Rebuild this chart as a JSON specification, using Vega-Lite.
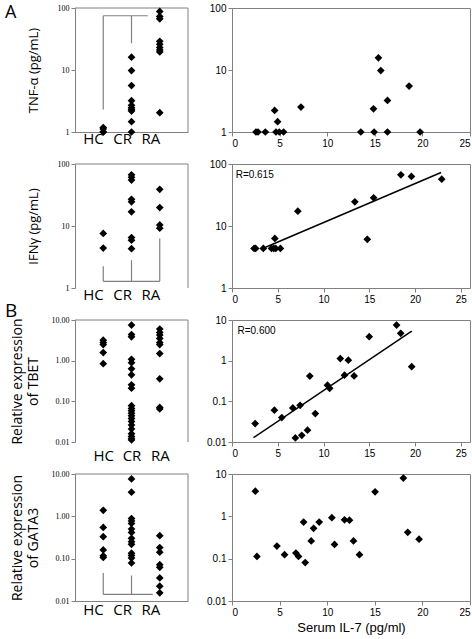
{
  "$schema": "https://vega.github.io/schema/vega-lite/v6.json",
  "background": "white",
  "padding": {"left": 5, "top": 2, "right": 5, "bottom": 2},
  "columns": 2,
  "spacing": {"row": 32, "column": 44},
  "bounds": "flush",
  "datasets": {
    "one": [{"k": 1}],
    "tnf_strip": [
      {"g": "HC", "v": 1.0}, {"g": "HC", "v": 1.0}, {"g": "HC", "v": 1.12}, {"g": "HC", "v": 1.18},
      {"g": "CR", "v": 16.1}, {"g": "CR", "v": 9.8}, {"g": "CR", "v": 5.6}, {"g": "CR", "v": 3.2}, {"g": "CR", "v": 2.7}, {"g": "CR", "v": 2.46}, {"g": "CR", "v": 2.3}, {"g": "CR", "v": 2.18}, {"g": "CR", "v": 1.47}, {"g": "CR", "v": 1.0},
      {"g": "RA", "v": 88}, {"g": "RA", "v": 73}, {"g": "RA", "v": 67}, {"g": "RA", "v": 29}, {"g": "RA", "v": 26}, {"g": "RA", "v": 23}, {"g": "RA", "v": 21}, {"g": "RA", "v": 19.6}, {"g": "RA", "v": 2.05}
    ],
    "ifn_strip": [
      {"g": "HC", "v": 7.6}, {"g": "HC", "v": 4.4},
      {"g": "CR", "v": 67}, {"g": "CR", "v": 61}, {"g": "CR", "v": 55}, {"g": "CR", "v": 27}, {"g": "CR", "v": 24.5}, {"g": "CR", "v": 16.9}, {"g": "CR", "v": 6.5}, {"g": "CR", "v": 5.9}, {"g": "CR", "v": 4.3},
      {"g": "RA", "v": 39}, {"g": "RA", "v": 19.8}, {"g": "RA", "v": 10.4}, {"g": "RA", "v": 9.2}
    ],
    "tbet_strip": [
      {"g": "HC", "v": 3.19}, {"g": "HC", "v": 2.79}, {"g": "HC", "v": 2.49}, {"g": "HC", "v": 1.58}, {"g": "HC", "v": 0.84},
      {"g": "CR", "v": 7.5}, {"g": "CR", "v": 4.4}, {"g": "CR", "v": 3.86}, {"g": "CR", "v": 1.08}, {"g": "CR", "v": 0.89}, {"g": "CR", "v": 0.63}, {"g": "CR", "v": 0.45}, {"g": "CR", "v": 0.254}, {"g": "CR", "v": 0.21}, {"g": "CR", "v": 0.078}, {"g": "CR", "v": 0.067}, {"g": "CR", "v": 0.059}, {"g": "CR", "v": 0.051}, {"g": "CR", "v": 0.044}, {"g": "CR", "v": 0.038}, {"g": "CR", "v": 0.032}, {"g": "CR", "v": 0.026}, {"g": "CR", "v": 0.021}, {"g": "CR", "v": 0.016}, {"g": "CR", "v": 0.0136}, {"g": "CR", "v": 0.0121}, {"g": "CR", "v": 0.0112},
      {"g": "RA", "v": 5.98}, {"g": "RA", "v": 4.95}, {"g": "RA", "v": 4.25}, {"g": "RA", "v": 3.51}, {"g": "RA", "v": 2.79}, {"g": "RA", "v": 2.49}, {"g": "RA", "v": 1.49}, {"g": "RA", "v": 0.358}, {"g": "RA", "v": 0.071}, {"g": "RA", "v": 0.065}
    ],
    "gata_strip": [
      {"g": "HC", "v": 1.39}, {"g": "HC", "v": 0.546}, {"g": "HC", "v": 0.33}, {"g": "HC", "v": 0.161}, {"g": "HC", "v": 0.117}, {"g": "HC", "v": 0.107},
      {"g": "CR", "v": 7.64}, {"g": "CR", "v": 3.73}, {"g": "CR", "v": 0.887}, {"g": "CR", "v": 0.78}, {"g": "CR", "v": 0.68}, {"g": "CR", "v": 0.5}, {"g": "CR", "v": 0.417}, {"g": "CR", "v": 0.302}, {"g": "CR", "v": 0.252}, {"g": "CR", "v": 0.219}, {"g": "CR", "v": 0.135}, {"g": "CR", "v": 0.119}, {"g": "CR", "v": 0.103}, {"g": "CR", "v": 0.079},
      {"g": "RA", "v": 0.348}, {"g": "RA", "v": 0.183}, {"g": "RA", "v": 0.142}, {"g": "RA", "v": 0.072}, {"g": "RA", "v": 0.0623}, {"g": "RA", "v": 0.035}, {"g": "RA", "v": 0.0224}, {"g": "RA", "v": 0.0156}
    ],
    "tnf_sc": [
      {"il7": 2.52, "v": 1}, {"il7": 2.73, "v": 1}, {"il7": 3.5, "v": 1}, {"il7": 4.48, "v": 2.23}, {"il7": 4.79, "v": 1.47}, {"il7": 4.62, "v": 1}, {"il7": 4.97, "v": 1}, {"il7": 5.42, "v": 1}, {"il7": 7.24, "v": 2.52}, {"il7": 13.53, "v": 1}, {"il7": 14.86, "v": 2.37}, {"il7": 14.93, "v": 1}, {"il7": 15.38, "v": 15.7}, {"il7": 15.63, "v": 9.8}, {"il7": 16.33, "v": 3.23}, {"il7": 16.33, "v": 1}, {"il7": 18.6, "v": 5.5}, {"il7": 19.76, "v": 1}
    ],
    "ifn_sc": [
      {"il7": 2.41, "v": 4.34}, {"il7": 2.59, "v": 4.34}, {"il7": 3.42, "v": 4.34}, {"il7": 4.32, "v": 4.34}, {"il7": 4.57, "v": 4.34}, {"il7": 4.78, "v": 4.34}, {"il7": 5.29, "v": 4.34}, {"il7": 4.68, "v": 6.3}, {"il7": 7.19, "v": 17.3}, {"il7": 13.42, "v": 24.5}, {"il7": 14.78, "v": 6.1}, {"il7": 15.47, "v": 28.5}, {"il7": 18.45, "v": 67}, {"il7": 19.6, "v": 62.9}, {"il7": 22.91, "v": 56.9}
    ],
    "ifn_fit": [{"il7": 3.6, "v": 4.5}, {"il7": 22.84, "v": 73}],
    "tbet_sc": [
      {"il7": 2.53, "v": 0.0284}, {"il7": 4.63, "v": 0.0604}, {"il7": 5.44, "v": 0.04}, {"il7": 6.64, "v": 0.069}, {"il7": 6.92, "v": 0.0126}, {"il7": 7.44, "v": 0.08}, {"il7": 7.62, "v": 0.0146}, {"il7": 8.25, "v": 0.0195}, {"il7": 8.5, "v": 0.417}, {"il7": 9.1, "v": 0.05}, {"il7": 10.43, "v": 0.25}, {"il7": 10.67, "v": 0.209}, {"il7": 11.83, "v": 1.13}, {"il7": 12.29, "v": 0.44}, {"il7": 12.71, "v": 1.03}, {"il7": 13.34, "v": 0.42}, {"il7": 14.99, "v": 3.88}, {"il7": 17.98, "v": 7.5}, {"il7": 18.43, "v": 4.7}, {"il7": 19.63, "v": 0.71}
    ],
    "tbet_fit": [{"il7": 2.35, "v": 0.0128}, {"il7": 19.63, "v": 5.35}],
    "gata_sc": [
      {"il7": 2.45, "v": 3.93}, {"il7": 2.62, "v": 0.113}, {"il7": 4.72, "v": 0.198}, {"il7": 5.52, "v": 0.124}, {"il7": 6.71, "v": 0.136}, {"il7": 6.99, "v": 0.113}, {"il7": 7.52, "v": 0.73}, {"il7": 7.69, "v": 0.081}, {"il7": 8.32, "v": 0.262}, {"il7": 8.57, "v": 0.52}, {"il7": 9.16, "v": 0.73}, {"il7": 10.49, "v": 0.93}, {"il7": 10.77, "v": 0.217}, {"il7": 11.82, "v": 0.83}, {"il7": 12.34, "v": 0.81}, {"il7": 12.76, "v": 0.262}, {"il7": 13.39, "v": 0.124}, {"il7": 15.03, "v": 3.79}, {"il7": 18.0, "v": 8.0}, {"il7": 18.46, "v": 0.418}, {"il7": 19.65, "v": 0.288}
    ]
  },
  "concat": [
    {
      "width": 113, "height": 124,
      "view": {"stroke": null},
      "title": {"text": "A", "anchor": "start", "frame": "group", "font": "Open Sans", "fontSize": 18, "fontWeight": "normal", "color": "black", "dx": -70, "dy": 18, "offset": 0},
      "layer": [
        {"data": {"name": "one"}, "mark": {"type": "rule", "color": "#808080"}, "encoding": {"y": {"datum": 100, "type": "quantitative"}}},
        {"data": {"name": "one"}, "mark": {"type": "rule", "color": "#808080"}, "encoding": {"x": {"value": "width"}}},
        {"data": {"values": [{"g": "HC", "lo": 2.3, "hi": 75}, {"g": "CR", "lo": 27, "hi": 75}]},
         "mark": {"type": "rule", "color": "#808080", "strokeWidth": 1.2},
         "encoding": {"x": {"field": "g", "type": "nominal"}, "y": {"field": "lo", "type": "quantitative"}, "y2": {"field": "hi"}}},
        {"data": {"name": "one"}, "mark": {"type": "rule", "color": "#808080", "strokeWidth": 1.2, "x2Offset": -12},
         "encoding": {"x": {"datum": "HC", "type": "nominal"}, "x2": {"datum": "RA"}, "y": {"datum": 75, "type": "quantitative"}}},
        {"data": {"name": "tnf_strip"},
         "mark": {"type": "point", "shape": "diamond", "filled": true, "color": "black", "size": 60, "opacity": 1},
         "encoding": {
           "x": {"field": "g", "type": "nominal", "scale": {"type": "point", "domain": ["HC", "CR", "RA"], "padding": 1},
                 "axis": {"title": null, "labelAngle": 0, "ticks": false, "domain": true, "labelFont": "Open Sans", "labelFontSize": 15, "labelPadding": 6}},
           "y": {"field": "v", "type": "quantitative", "scale": {"type": "log", "domain": [1, 100]},
                 "axis": {"values": [1, 10, 100], "format": "~g", "domain": true, "labelFont": "Liberation Serif", "labelFontSize": 8, "tickSize": 4, "title": "TNF-α (pg/mL)", "titleFont": "Open Sans", "titleFontSize": 13, "titlePadding": 17}}
         }}
      ]
    },
    {
      "width": 238, "height": 124,
      "layer": [
        {"data": {"name": "tnf_sc"},
         "mark": {"type": "point", "shape": "diamond", "filled": true, "color": "black", "size": 60, "opacity": 1},
         "encoding": {
           "x": {"field": "il7", "type": "quantitative", "scale": {"domain": [0, 25]}, "axis": {"values": [0, 5, 10, 15, 20, 25], "title": null}},
           "y": {"field": "v", "type": "quantitative", "scale": {"type": "log", "domain": [1, 100]}, "axis": {"values": [1, 10, 100], "format": "~g", "title": null}}
         }}
      ]
    },
    {
      "width": 113, "height": 124,
      "view": {"stroke": null},
      "layer": [
        {"data": {"name": "one"}, "mark": {"type": "rule", "color": "#808080"}, "encoding": {"y": {"datum": 100, "type": "quantitative"}}},
        {"data": {"name": "one"}, "mark": {"type": "rule", "color": "#808080"}, "encoding": {"x": {"value": "width"}}},
        {"data": {"values": [{"g": "HC", "lo": 1.28, "hi": 2.25}, {"g": "CR", "lo": 1.28, "hi": 2.8}, {"g": "RA", "lo": 1.28, "hi": 6.3}]},
         "mark": {"type": "rule", "color": "#808080", "strokeWidth": 1.2},
         "encoding": {"x": {"field": "g", "type": "nominal"}, "y": {"field": "lo", "type": "quantitative"}, "y2": {"field": "hi"}}},
        {"data": {"name": "one"}, "mark": {"type": "rule", "color": "#808080", "strokeWidth": 1.2},
         "encoding": {"x": {"datum": "HC", "type": "nominal"}, "x2": {"datum": "RA"}, "y": {"datum": 1.28, "type": "quantitative"}}},
        {"data": {"name": "ifn_strip"},
         "mark": {"type": "point", "shape": "diamond", "filled": true, "color": "black", "size": 60, "opacity": 1},
         "encoding": {
           "x": {"field": "g", "type": "nominal", "scale": {"type": "point", "domain": ["HC", "CR", "RA"], "padding": 1},
                 "axis": {"title": null, "labelAngle": 0, "ticks": false, "domain": false, "labelFont": "Open Sans", "labelFontSize": 15, "labelPadding": 6}},
           "y": {"field": "v", "type": "quantitative", "scale": {"type": "log", "domain": [1, 100]},
                 "axis": {"values": [1, 10, 100], "format": "~g", "domain": true, "labelFont": "Liberation Serif", "labelFontSize": 8, "tickSize": 4, "title": "IFNγ (pg/mL)", "titleFont": "Open Sans", "titleFontSize": 13, "titlePadding": 17}}
         }}
      ]
    },
    {
      "width": 238, "height": 124,
      "layer": [
        {"data": {"name": "ifn_fit"},
         "mark": {"type": "line", "color": "black", "strokeWidth": 1.5},
         "encoding": {"x": {"field": "il7", "type": "quantitative"}, "y": {"field": "v", "type": "quantitative"}}},
        {"data": {"name": "one"}, "mark": {"type": "text", "text": "R=0.615", "align": "left", "baseline": "middle", "font": "Liberation Sans", "fontSize": 10, "color": "black"},
         "encoding": {"x": {"datum": 0.4, "type": "quantitative"}, "y": {"datum": 67, "type": "quantitative"}}},
        {"data": {"name": "ifn_sc"},
         "mark": {"type": "point", "shape": "diamond", "filled": true, "color": "black", "size": 60, "opacity": 1},
         "encoding": {
           "x": {"field": "il7", "type": "quantitative", "scale": {"domain": [0, 25]}, "axis": {"values": [0, 5, 10, 15, 20, 25], "title": null}},
           "y": {"field": "v", "type": "quantitative", "scale": {"type": "log", "domain": [1, 100]}, "axis": {"values": [1, 10, 100], "format": "~g", "title": null}}
         }}
      ]
    },
    {
      "width": 113, "height": 122,
      "view": {"stroke": null},
      "title": {"text": "B", "anchor": "start", "frame": "group", "font": "Open Sans", "fontSize": 19, "fontWeight": "normal", "color": "black", "dx": -70, "dy": 5, "offset": 0},
      "layer": [
        {"data": {"name": "one"}, "mark": {"type": "rule", "color": "#808080"}, "encoding": {"y": {"datum": 10, "type": "quantitative"}}},
        {"data": {"name": "one"}, "mark": {"type": "rule", "color": "#808080"}, "encoding": {"x": {"value": "width"}}},
        {"data": {"name": "tbet_strip"},
         "mark": {"type": "point", "shape": "diamond", "filled": true, "color": "black", "size": 60, "opacity": 1},
         "encoding": {
           "x": {"field": "g", "type": "nominal", "scale": {"type": "point", "domain": ["HC", "CR", "RA"], "padding": 1},
                 "axis": {"title": null, "labelAngle": 0, "ticks": false, "domain": false, "labelFont": "Open Sans", "labelFontSize": 15, "labelPadding": 6}},
           "y": {"field": "v", "type": "quantitative", "scale": {"type": "log", "domain": [0.01, 10]},
                 "axis": {"values": [0.01, 0.1, 1, 10], "format": ".2f", "domain": true, "labelFont": "Liberation Serif", "labelFontSize": 8, "tickSize": 4, "title": ["Relative expression", "of TBET"], "titleFont": "Open Sans", "titleFontSize": 14, "titlePadding": 11, "titleLineHeight": 16}}
         }}
      ]
    },
    {
      "width": 238, "height": 122,
      "layer": [
        {"data": {"name": "tbet_fit"},
         "mark": {"type": "line", "color": "black", "strokeWidth": 1.5},
         "encoding": {"x": {"field": "il7", "type": "quantitative"}, "y": {"field": "v", "type": "quantitative"}}},
        {"data": {"name": "one"}, "mark": {"type": "text", "text": "R=0.600", "align": "left", "baseline": "middle", "font": "Liberation Sans", "fontSize": 10, "color": "black"},
         "encoding": {"x": {"datum": 0.6, "type": "quantitative"}, "y": {"datum": 5.4, "type": "quantitative"}}},
        {"data": {"name": "tbet_sc"},
         "mark": {"type": "point", "shape": "diamond", "filled": true, "color": "black", "size": 60, "opacity": 1},
         "encoding": {
           "x": {"field": "il7", "type": "quantitative", "scale": {"domain": [0, 25]}, "axis": {"values": [0, 5, 10, 15, 20, 25], "title": null}},
           "y": {"field": "v", "type": "quantitative", "scale": {"type": "log", "domain": [0.01, 10]}, "axis": {"values": [0.01, 0.1, 1, 10], "format": "~g", "title": null}}
         }}
      ]
    },
    {
      "width": 113, "height": 127,
      "view": {"stroke": null},
      "layer": [
        {"data": {"name": "one"}, "mark": {"type": "rule", "color": "#808080"}, "encoding": {"y": {"datum": 10, "type": "quantitative"}}},
        {"data": {"name": "one"}, "mark": {"type": "rule", "color": "#808080"}, "encoding": {"x": {"value": "width"}}},
        {"data": {"values": [{"g": "HC", "lo": 0.0143, "hi": 0.046}, {"g": "CR", "lo": 0.0143, "hi": 0.04}]},
         "mark": {"type": "rule", "color": "#808080", "strokeWidth": 1.2},
         "encoding": {"x": {"field": "g", "type": "nominal"}, "y": {"field": "lo", "type": "quantitative"}, "y2": {"field": "hi"}}},
        {"data": {"name": "one"}, "mark": {"type": "rule", "color": "#808080", "strokeWidth": 1.2, "x2Offset": -7},
         "encoding": {"x": {"datum": "HC", "type": "nominal"}, "x2": {"datum": "RA"}, "y": {"datum": 0.0143, "type": "quantitative"}}},
        {"data": {"name": "gata_strip"},
         "mark": {"type": "point", "shape": "diamond", "filled": true, "color": "black", "size": 60, "opacity": 1},
         "encoding": {
           "x": {"field": "g", "type": "nominal", "scale": {"type": "point", "domain": ["HC", "CR", "RA"], "padding": 1},
                 "axis": {"title": null, "labelAngle": 0, "ticks": false, "domain": true, "labelFont": "Open Sans", "labelFontSize": 15, "labelPadding": 8}},
           "y": {"field": "v", "type": "quantitative", "scale": {"type": "log", "domain": [0.01, 10]},
                 "axis": {"values": [0.01, 0.1, 1, 10], "format": ".2f", "domain": true, "labelFont": "Liberation Serif", "labelFontSize": 8, "tickSize": 4, "title": ["Relative expression", "of GATA3"], "titleFont": "Open Sans", "titleFontSize": 14, "titlePadding": 11, "titleLineHeight": 16}}
         }}
      ]
    },
    {
      "width": 238, "height": 127,
      "layer": [
        {"data": {"name": "gata_sc"},
         "mark": {"type": "point", "shape": "diamond", "filled": true, "color": "black", "size": 60, "opacity": 1},
         "encoding": {
           "x": {"field": "il7", "type": "quantitative", "scale": {"domain": [0, 25]}, "axis": {"values": [0, 5, 10, 15, 20, 25], "title": "Serum IL-7 (pg/ml)", "titleFont": "Liberation Sans", "titleFontSize": 13, "titlePadding": 4}},
           "y": {"field": "v", "type": "quantitative", "scale": {"type": "log", "domain": [0.01, 10]}, "axis": {"values": [0.01, 0.1, 1, 10], "format": "~g", "title": null}}
         }}
      ]
    }
  ],
  "config": {
    "view": {"stroke": "#808080"},
    "axis": {"grid": false, "domainColor": "#808080", "tickColor": "#808080", "labelColor": "black", "titleColor": "black", "titleFontWeight": "normal", "labelFont": "Liberation Sans", "labelFontSize": 10, "tickSize": 4},
    "axisX": {"domain": false},
    "axisY": {"domain": false}
  }
}
